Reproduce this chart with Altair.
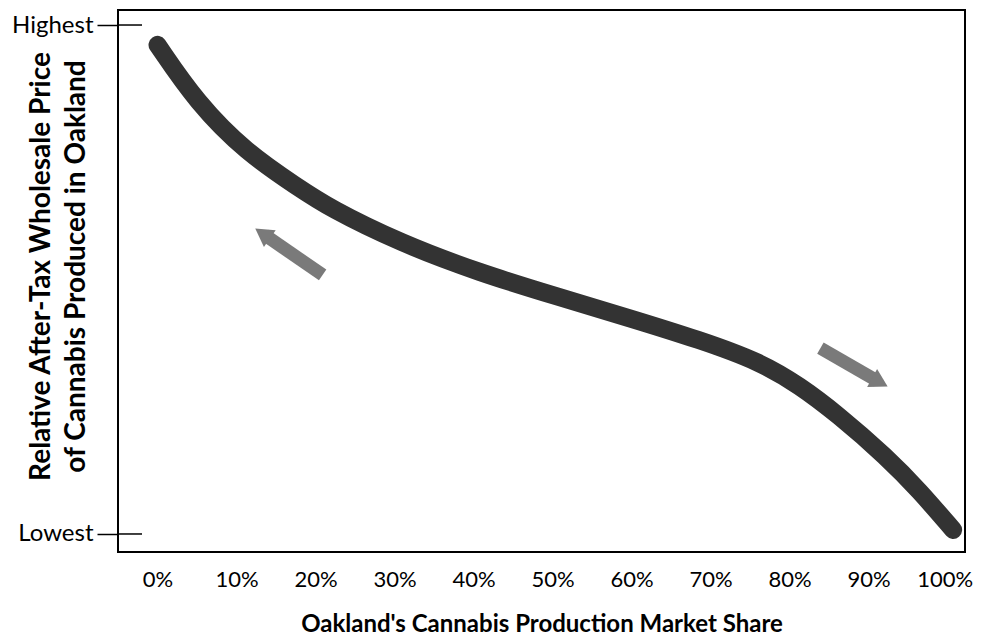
import altair as alt
import pandas as pd

# Curve (market share %, relative price 0=Lowest .. 1=Highest)
curve_x = [0, 5.0, 11.3, 17.7, 21.8, 30.7, 40.8, 50.7, 59.8, 68.7, 76.3, 81.3, 86.0, 92.3, 96.5, 100.7]
curve_y = [0.961, 0.847, 0.749, 0.682, 0.640, 0.572, 0.513, 0.466, 0.424, 0.381, 0.338, 0.291, 0.236, 0.151, 0.084, 0.008]

# Arrows (tail -> head) in data units
arrow_tail_x = [20.9, 83.9]
arrow_tail_y = [0.509, 0.365]
arrow_head_x = [13.6, 91.1]
arrow_head_y = [0.587, 0.301]
arrow_angle = [305, 119]

x_ticks = [0, 10, 20, 30, 40, 50, 60, 70, 80, 90, 100]
y_ticks = [0, 1]
y_tick_labels = ["Lowest", "Highest"]

x_title = "Oakland's Cannabis Production Market Share"
y_title = ["Relative After-Tax Wholesale Price", "of Cannabis Produced in Oakland"]

FONT = "Lato"

curve_df = pd.DataFrame({"x": curve_x, "y": curve_y, "order": list(range(len(curve_x)))})
shaft_rows = []
for i in range(len(arrow_tail_x)):
    shaft_rows.append({"id": i, "x": arrow_tail_x[i], "y": arrow_tail_y[i], "o": 0})
    shaft_rows.append({"id": i, "x": arrow_head_x[i], "y": arrow_head_y[i], "o": 1})
shaft_df = pd.DataFrame(shaft_rows)
head_df = pd.DataFrame({"x": arrow_head_x, "y": arrow_head_y, "angle": arrow_angle})
ytick_df = pd.DataFrame({"y": y_ticks})

xscale = alt.Scale(domain=[-5.0, 102.2], nice=False, zero=False)
yscale = alt.Scale(domain=[-0.0354, 1.0295], nice=False, zero=False)

label_expr = "datum.value == 1 ? '%s' : '%s'" % (y_tick_labels[1], y_tick_labels[0])

xaxis = alt.Axis(
    values=x_ticks, labelExpr="datum.value + '%'", ticks=False, domain=False, grid=False,
    labelFont=FONT, labelFontSize=22, labelColor="black", labelPadding=17,
    labelAlign={"condition": {"test": "datum.value == 100", "value": "right"}, "value": "center"},
    labelOffset={"condition": {"test": "datum.value == 100", "value": 25}, "value": 0},
    title=x_title, titleFont=FONT, titleFontSize=24, titleFontWeight="bold",
    titleColor="black", titleY=72, titleBaseline="middle",
)
yaxis = alt.Axis(
    values=y_ticks, labelExpr=label_expr, domain=False, grid=False,
    tickSize=21, tickColor="black", tickWidth=1.5,
    labelFont=FONT, labelFontSize=24, labelColor="black", labelPadding=4,
    title=y_title, titleFont=FONT, titleFontSize=28, titleFontWeight="bold",
    titleColor="black", titleAngle=270, titleX=-77, titleY=256,
    titleAlign="center", titleBaseline="middle", titleLineHeight=35,
)

X = alt.X("x:Q", scale=xscale, axis=xaxis)
Y = alt.Y("y:Q", scale=yscale, axis=yaxis)

base_curve = alt.Chart(curve_df).mark_line(
    strokeWidth=18, strokeCap="round", strokeJoin="round", color="#333333", interpolate="basis"
).encode(x=X, y=Y, order="order:O")

inner_ticks = alt.Chart(ytick_df).mark_rule(color="black", strokeWidth=1.5).encode(
    y=Y, x=alt.value(0), x2=alt.value(24),
)

shafts = alt.Chart(shaft_df).mark_line(strokeWidth=13, color="#7a7a7a", strokeCap="butt").encode(
    x=X, y=Y, detail="id:N", order="o:O",
)

heads = alt.Chart(head_df).mark_point(shape="triangle", filled=True, color="#7a7a7a", opacity=1, size=420).encode(
    x=X, y=Y, angle=alt.Angle("angle:Q", scale=None),
)

chart = alt.layer(base_curve, shafts, heads, inner_ticks).properties(
    width=847, height=542,
    background="white",
    autosize=alt.AutoSizeParams(type="none"),
    padding={"left": 110, "top": 2, "right": 8, "bottom": 83},
).configure_view(stroke="black", strokeWidth=2)

chart.save("out.html", embed_options={"renderer": "svg", "actions": False})
